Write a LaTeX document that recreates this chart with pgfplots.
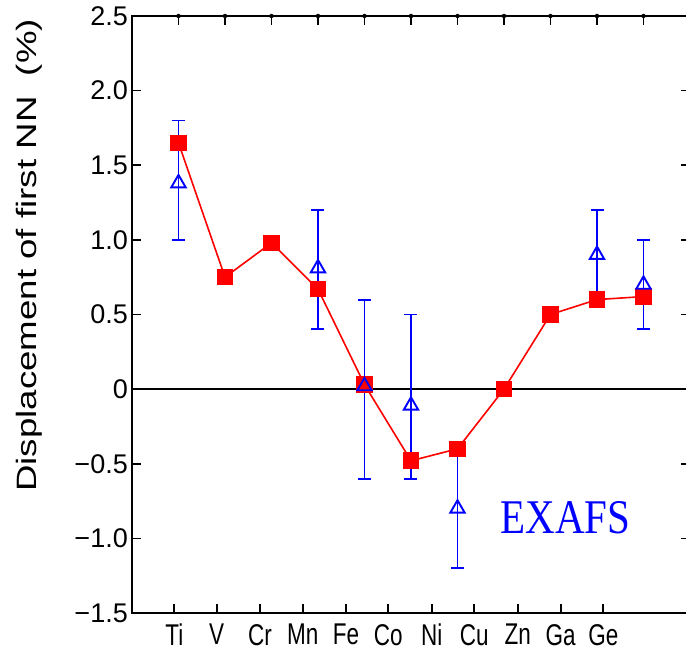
\documentclass[border=0pt]{standalone}
\usepackage{pgfplots}
\pgfplotsset{compat=1.18}
\usepackage{fontspec}
\setmainfont{Liberation Sans}
\newfontfamily\seriffont{Liberation Serif}
\usepackage{graphicx}
\newcommand{\xl}[1]{\scalebox{0.75}[1]{#1}}

\begin{document}
\begin{tikzpicture}[x=1pt,y=1pt]
\useasboundingbox (-132,-38) rectangle (554,613);
\begin{axis}[
 at={(0,0)}, anchor=south west,
 scale only axis, width=558pt, height=597pt,
 xmin=0, xmax=12, ymin=-1.5, ymax=2.5,
 axis line style={line width=1.7pt},
 every tick/.style={black, line width=1.7pt},
 tick align=inside,
 major tick length=9pt,
 xtick={0.910,1.822,2.753,3.671,4.602,5.512,6.445,7.361,8.294,9.219,10.135},
 xticklabels={\xl{Ti},\xl{V},\xl{Cr},\xl{Mn},\xl{Fe},\xl{Co},\xl{Ni},\xl{Cu},\xl{Zn},\xl{Ga},\xl{Ge}},
 xtick pos=left,
 ytick={-1.5,-1,-0.5,0,0.5,1,1.5,2,2.5},
 yticklabels={−1.5,−1.0,−0.5,0,0.5,1.0,1.5,2.0,2.5},
 ytick pos=left,
 x tick label style={font=\fontsize{30}{30}\selectfont, anchor=north, inner sep=0pt, yshift=-11pt},
 y tick label style={font=\fontsize{27}{27}\selectfont, anchor=east, inner sep=0pt, xshift=-4pt},
 clip=false,
]
\addplot[black, line width=1.4pt, forget plot] coordinates {(0,0) (12,0)};
\addplot[red, line width=1.6pt, mark=square*, mark size=7.5pt, mark options={solid}] coordinates {
(1,1.65) (2,0.75) (3,0.98) (4,0.67) (5,0.03) (6,-0.48) (7,-0.40) (8,0.0) (9,0.5) (10,0.6) (11,0.62)};
\addplot[blue, only marks, line width=1.9pt, mark=triangle, mark size=8.3pt, mark options={fill=white},
 error bars/.cd, y dir=both, y explicit,
 error bar style={line width=1.9pt},
 error mark options={rotate=90, mark size=6.5pt, line width=1.9pt}] coordinates {
(1,1.38) += (0,0.42) -= (0,0.38)
(4,0.81) += (0,0.39) -= (0,0.41)
(5,0.02) += (0,0.58) -= (0,0.62)
(6,-0.11) += (0,0.61) -= (0,0.49)
(7,-0.80) += (0,0.40) -= (0,0.40)
(10,0.90) += (0,0.30) -= (0,0.30)
(11,0.70) += (0,0.30) -= (0,0.30)};
\node[anchor=base west, text=blue, font=\seriffont\fontsize{41}{41}\selectfont, inner sep=0pt] at (axis cs:7.92,-0.965) {\scalebox{1}[1.18]{EXAFS}};
\node[rotate=90, anchor=base, inner sep=0pt, font=\fontsize{28}{28}\selectfont] at ([xshift=-95pt]rel axis cs:0,0.599) {\scalebox{1.31}[1]{Displacement of first NN\ \ (\%)}};
\end{axis}
% right-hand y ticks
\begin{axis}[
 at={(0,0)}, anchor=south west,
 scale only axis, width=558pt, height=597pt,
 xmin=0, xmax=12, ymin=-1.5, ymax=2.5,
 axis x line*=top, axis y line*=right,
 axis line style={line width=1.7pt, -},
 xtick=\empty,
 ytick={-1.5,-1,-0.5,0,0.5,1,1.5,2,2.5},
 yticklabels={},
 tick align=inside,
 major tick length=9pt,
 every tick/.style={black, line width=1.7pt},
]
\end{axis}
% top x ticks, drawn last as downward error-bar stubs from the top edge
\begin{axis}[
 at={(0,0)}, anchor=south west,
 scale only axis, width=558pt, height=597pt,
 xmin=0, xmax=12, ymin=-1.5, ymax=2.5,
 hide axis, clip=false,
]
\addplot[black, only marks, mark=none, forget plot,
 error bars/.cd, y dir=minus, y explicit,
 error bar style={black, line width=1.7pt}, error mark=none] coordinates {
(1,2.5) -= (0,0.0603)
(2,2.5) -= (0,0.0603)
(3,2.5) -= (0,0.0603)
(4,2.5) -= (0,0.0603)
(5,2.5) -= (0,0.0603)
(6,2.5) -= (0,0.0603)
(7,2.5) -= (0,0.0603)
(8,2.5) -= (0,0.0603)
(9,2.5) -= (0,0.0603)
(10,2.5) -= (0,0.0603)
(11,2.5) -= (0,0.0603)};
\end{axis}
\end{tikzpicture}
\end{document}
